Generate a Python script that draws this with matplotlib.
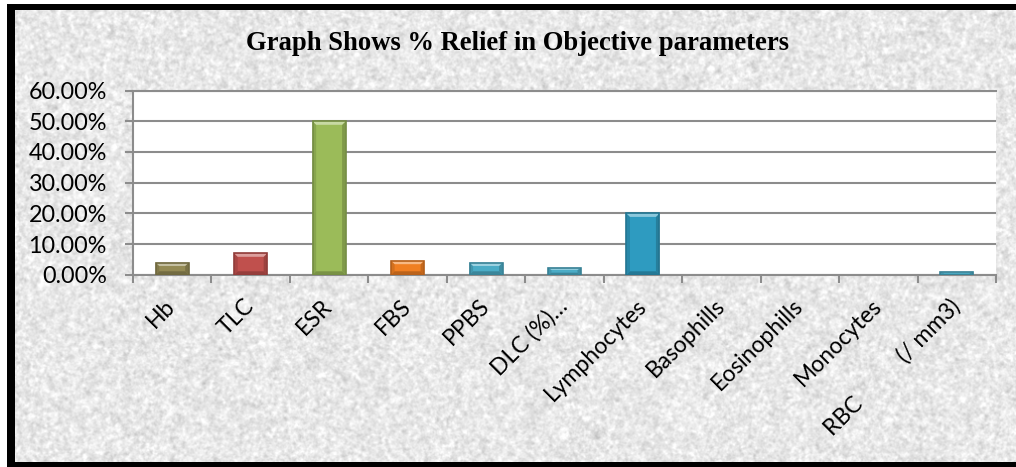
import numpy as np
import matplotlib
matplotlib.use("Agg")
import matplotlib.pyplot as plt
from matplotlib.patches import Rectangle, Polygon
from matplotlib.ticker import FuncFormatter, MultipleLocator
from matplotlib.colors import to_rgb

# ---- data -------------------------------------------------------------
categories = ["Hb", "TLC", "ESR", "FBS", "PPBS", "DLC (%)…", "Lymphocytes",
              "Basophills", "Eosinophills", "Monocytes",
              "RBC          (/ mm3)"]
relief_pct = [4.0, 7.0, 50.0, 4.6, 4.0, 2.3, 20.0, 0.0, 0.0, 0.0, 1.0]
bar_colors = ["#948A54", "#C0504D", "#9BBB59", "#F07F22", "#4BACC6",
              "#4BACC6", "#2E9BC0", "#4BACC6", "#4BACC6", "#4BACC6",
              "#4BACC6"]
title = "Graph Shows % Relief in Objective parameters"

W, H, DPI = 1016, 467, 100
fig = plt.figure(figsize=(W / DPI, H / DPI), dpi=DPI)
fig.patch.set_facecolor("white")

# ---- stone-like paper texture behind the chart -------------------------
rng = np.random.default_rng(7)
noise = rng.standard_normal((H, W))
fy = np.fft.fftfreq(H)[:, None]
fx = np.fft.fftfreq(W)[None, :]
soft = np.real(np.fft.ifft2(np.fft.fft2(noise) * np.exp(-(fx**2 + fy**2) * 2 * (np.pi * 1.5) ** 2)))
fine = np.real(np.fft.ifft2(np.fft.fft2(noise) * np.exp(-(fx**2 + fy**2) * 2 * (np.pi * 0.6) ** 2)))
tex = 0.55 * soft / soft.std() + 0.45 * fine / fine.std()
gray = np.clip(0.91 + 0.04 * tex, 0.70, 1.0)
bg = fig.add_axes([7 / W, 0, 1 - 7 / W, 1 - 4 / H], zorder=-5)
bg.imshow(gray, cmap="gray", vmin=0, vmax=1, aspect="auto", interpolation="bilinear")
bg.axis("off")

# black frame (top, left, bottom)
for (x0, y0, w, h) in [(7, 4, W - 7, 6), (7, 4, 8, H - 4), (7, H - 5, W - 7, 5)]:
    fig.patches.append(Rectangle((x0 / W, 1 - (y0 + h) / H), w / W, h / H,
                                 transform=fig.transFigure, facecolor="black",
                                 edgecolor="none", zorder=10))

# ---- plot area ----------------------------------------------------------
left, right, top, bottom = 133, 996, 90.6, 274.8
ax = fig.add_axes([left / W, 1 - bottom / H, (right - left) / W, (bottom - top) / H])
ax.set_facecolor("white")

x = np.arange(len(categories))
bars = ax.bar(x, relief_pct, width=0.42, color=bar_colors, zorder=3,
              edgecolor="none")


def shade(c, f):
    r, g, b = to_rgb(c)
    if f >= 0:
        return (r + (1 - r) * f, g + (1 - g) * f, b + (1 - b) * f)
    return (r * (1 + f), g * (1 + f), b * (1 + f))


# bevelled look: darker rim, light top band
px_x = 1.0 / 78.45          # one pixel in category units
px_y = 10.0 / 30.7          # one pixel in percent units
for b, c in zip(bars, bar_colors):
    h = b.get_height()
    if h <= 0:
        continue
    x0, w = b.get_x(), b.get_width()
    x1 = x0 + w
    ix, iy = 3.5 * px_x, min(3.5 * px_y, h * 0.3)
    # outer rim
    ax.add_patch(Rectangle((x0, 0), w, h, facecolor="none",
                           edgecolor=shade(c, -0.25), lw=1.2, zorder=5))
    # left / right darker bevels
    ax.add_patch(Polygon([(x0, 0), (x0 + ix, iy), (x0 + ix, h - iy), (x0, h)],
                         closed=True, facecolor=shade(c, -0.12), edgecolor="none", zorder=4))
    ax.add_patch(Polygon([(x1, 0), (x1 - ix, iy), (x1 - ix, h - iy), (x1, h)],
                         closed=True, facecolor=shade(c, -0.18), edgecolor="none", zorder=4))
    # bottom bevel
    ax.add_patch(Polygon([(x0, 0), (x1, 0), (x1 - ix, iy), (x0 + ix, iy)],
                         closed=True, facecolor=shade(c, -0.22), edgecolor="none", zorder=4))
    # top highlight
    ax.add_patch(Polygon([(x0, h), (x1, h), (x1 - ix, h - iy), (x0 + ix, h - iy)],
                         closed=True, facecolor=shade(c, 0.45), edgecolor="none", zorder=4))

ax.set_xlim(-0.5, len(categories) - 0.5)
ax.set_ylim(0, 60)
ax.yaxis.set_major_locator(MultipleLocator(10))
ax.yaxis.set_major_formatter(FuncFormatter(lambda v, p: f"{v:.2f}%"))
ax.grid(axis="y", color="#8C8C8C", lw=1.5, zorder=1)
ax.set_axisbelow(True)

ax.spines["right"].set_visible(False)
for s in ["left", "bottom", "top"]:
    ax.spines[s].set_color("#8C8C8C")
    ax.spines[s].set_linewidth(1.5)

# category boundary ticks below the axis
ax.set_xticks(np.arange(-0.5, len(categories), 1.0), minor=False)
ax.set_xticklabels([])
ax.set_xticks(x, minor=True)
ax.set_xticklabels(categories, minor=True, rotation=45, ha="right", va="center",
                   rotation_mode="anchor", fontsize=16.5, family="Lato")
ax.tick_params(axis="x", which="major", length=5.8, width=1.5, color="#8C8C8C", direction="out")
ax.tick_params(axis="x", which="minor", length=0, pad=20)
ax.tick_params(axis="y", length=5.8, width=1.5, color="#8C8C8C", pad=13)
for t in ax.get_yticklabels():
    t.set_family("Lato")
    t.set_fontsize(16.8)

fig.text(517 / W, 1 - 43 / H, title, ha="center", va="center",
         fontsize=19.2, fontweight="bold", family="Liberation Serif")

fig.savefig("out.png", dpi=DPI)
